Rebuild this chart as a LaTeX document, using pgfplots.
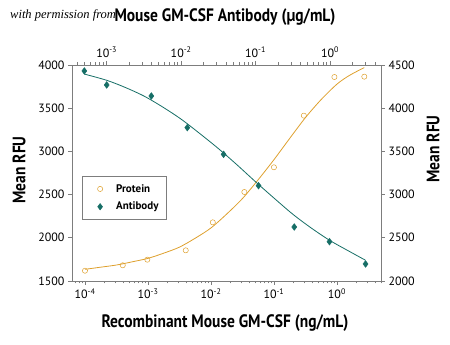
\documentclass[border=0pt]{standalone}
\usepackage{pgfplots}
\pgfplotsset{compat=1.18}
\usepackage{fontspec}
\setmainfont{PT Sans}
\newfontfamily\wmfont{Liberation Serif}
\definecolor{prot}{RGB}{222,160,45}
\definecolor{anti}{RGB}{22,110,102}
\definecolor{axgray}{RGB}{125,125,125}

\pgfplotstableread{
x y
1e-4 1619
3.98e-4 1682
9.77e-4 1747
3.98e-3 1855
1.07e-2 2179
3.39e-2 2530
0.1 2816
0.2985 3414
0.912 3861
2.72 3865
}\protdata

\pgfplotstableread{
x y
1e-4 1635
1.778e-4 1660
3.162e-4 1685
5.623e-4 1722
1e-3 1762
1.778e-3 1822
3.162e-3 1892
5.623e-3 1995
1e-2 2114
1.778e-2 2275
3.162e-2 2454
5.623e-2 2672
0.1 2904
0.1778 3150
0.3162 3391
0.5623 3600
1 3778
1.585 3880
2.72 3970
}\protfit

\pgfplotstableread{
x y
5.01e-4 4431
1e-3 4269
3.98e-3 4141
1.21e-2 3775
3.72e-2 3466
0.1096 3103
0.331 2625
0.984 2455
3.0 2197
}\antidata

\pgfplotstableread{
x y
5.01e-4 4395
1e-3 4323
1.778e-3 4240
3.162e-3 4141
5.623e-3 4015
1e-2 3873
1.778e-2 3707
3.162e-2 3533
5.623e-2 3345
0.1 3148
0.1778 2958
0.3162 2773
0.5623 2612
1 2468
1.738 2352
3.0 2240
}\antifit

\begin{document}
\begin{tikzpicture}
\path[use as bounding box] (-72pt,-64pt) rectangle (378pt,281pt);
\begin{axis}[
  scale only axis, width=309pt, height=216pt,
  xmode=log,
  axis line style={axgray, line width=0.6pt},
  tick style={axgray, line width=0.6pt},
  tick align=outside,
  major tick length=4pt, minor tick length=2.5pt,
  tick label style={font=\fontsize{12}{12}\selectfont},
  yticklabel style={/pgf/number format/1000 sep={}, /pgf/number format/assume math mode=true},
  scaled y ticks=false,
  xmin=6.22e-5, xmax=5.01, ymin=1500, ymax=4000,
  axis x line*=bottom, axis y line*=left,
  xtick={1e-4,1e-3,1e-2,1e-1,1},
  xticklabels={10\textsuperscript{-4},10\textsuperscript{-3},10\textsuperscript{-2},10\textsuperscript{-1},10\textsuperscript{0}},
  minor xtick={7e-5,8e-5,9e-5,2e-4,3e-4,4e-4,5e-4,6e-4,7e-4,8e-4,9e-4,2e-3,3e-3,4e-3,5e-3,6e-3,7e-3,8e-3,9e-3,2e-2,3e-2,4e-2,5e-2,6e-2,7e-2,8e-2,9e-2,0.2,0.3,0.4,0.5,0.6,0.7,0.8,0.9,2,3,4,5},
  ytick={1500,2000,2500,3000,3500,4000},
  legend style={at={(rel axis cs:0.032,0.486)}, anchor=north west, draw=axgray, line width=0.5pt,
    font=\bfseries\fontsize{11}{12}\selectfont, inner xsep=6pt, inner ysep=6pt, row sep=4.5pt},
  legend cell align=left,
  legend image code/.code={\path[draw=none, fill=none] (0pt,0pt) rectangle (26pt,0pt);
     \draw[#1, only marks, mark repeat=2,mark phase=2] plot coordinates {(0pt,0pt) (12pt,0pt) (24pt,0pt)};},
]
\addplot[prot, line width=0.8pt, smooth, no markers, forget plot] table {\protfit};
\addplot[only marks, mark=o, prot, mark size=2.6pt, line width=0.5pt] table {\protdata};
\addlegendentry{Protein}
\addlegendimage{only marks, mark=diamond*, anti, mark size=3.2pt}
\addlegendentry{Antibody}
\end{axis}
\begin{axis}[
  scale only axis, width=309pt, height=216pt,
  xmode=log,
  axis line style={axgray, line width=0.6pt},
  tick style={axgray, line width=0.6pt},
  tick align=outside,
  major tick length=4pt, minor tick length=2.5pt,
  tick label style={font=\fontsize{12}{12}\selectfont},
  yticklabel style={/pgf/number format/1000 sep={}, /pgf/number format/assume math mode=true},
  scaled y ticks=false,
  xmin=3.42e-4, xmax=4.84, ymin=2000, ymax=4500,
  axis x line*=top, axis y line*=right,
  xtick={1e-3,1e-2,1e-1,1},
  xticklabels={10\textsuperscript{-3},10\textsuperscript{-2},10\textsuperscript{-1},10\textsuperscript{0}},
  minor xtick={4e-4,5e-4,6e-4,7e-4,8e-4,9e-4,2e-3,3e-3,4e-3,5e-3,6e-3,7e-3,8e-3,9e-3,2e-2,3e-2,4e-2,5e-2,6e-2,7e-2,8e-2,9e-2,0.2,0.3,0.4,0.5,0.6,0.7,0.8,0.9,2,3,4},
  ytick={2000,2500,3000,3500,4000,4500},
]
\addplot[anti, line width=0.8pt, smooth, no markers] table {\antifit};
\addplot[only marks, mark=diamond*, anti, mark size=3.4pt] table {\antidata};
\end{axis}
\node[anchor=base, font=\bfseries\fontsize{18}{18}\selectfont] at (153pt,259pt) {\scalebox{0.86}[1]{Mouse GM-CSF Antibody (µg/mL)}};
\node[anchor=base, font=\bfseries\fontsize{18}{18}\selectfont] at (153pt,-47pt) {\scalebox{0.86}[1]{Recombinant Mouse GM-CSF (ng/mL)}};
\node[rotate=90, font=\bfseries\fontsize{18}{18}\selectfont] at (-53pt,111pt) {\scalebox{0.86}[1]{Mean RFU}};
\node[rotate=90, font=\bfseries\fontsize{18}{18}\selectfont] at (361pt,132pt) {\scalebox{0.86}[1]{Mean RFU}};
\node[anchor=base west, font=\wmfont\itshape\fontsize{12.5}{13}\selectfont, inner sep=0pt] at (-62pt,262pt) {with permission from};
\end{tikzpicture}
\end{document}
